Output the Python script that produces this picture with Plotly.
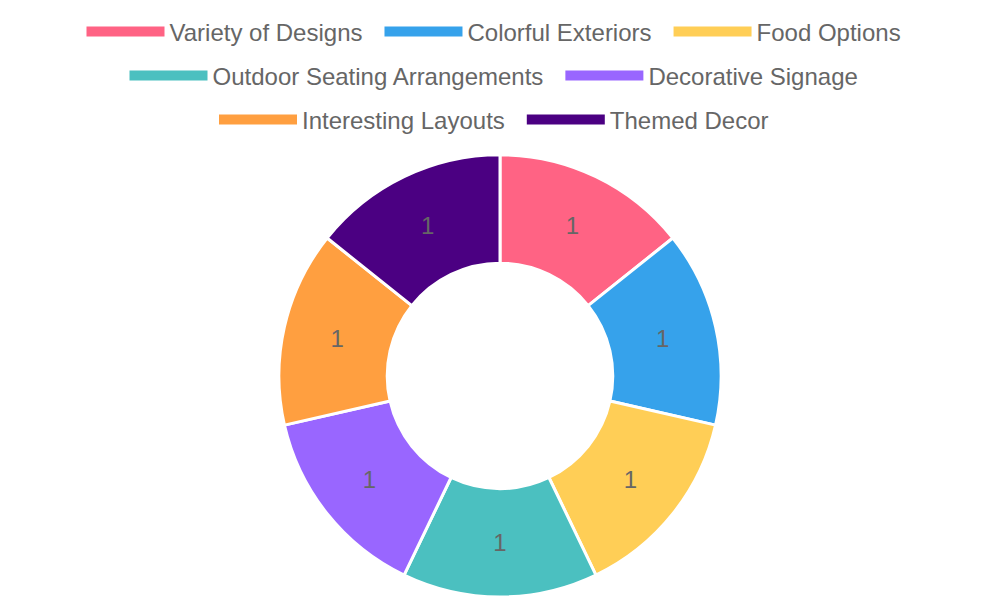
import plotly.graph_objects as go

labels = ['Variety of Designs', 'Colorful Exteriors', 'Food Options',
          'Outdoor Seating Arrangements', 'Decorative Signage',
          'Interesting Layouts', 'Themed Decor']
values = [1, 1, 1, 1, 1, 1, 1]
colors = ['#FF6384', '#36A2EB', '#FFCE56', '#4BC0C0', '#9966FF', '#FF9F40', '#4B0082']
# which legend row each label sits on (legend wraps like chart.js: 3 / 2 / 2)
legend_rows = ['legend', 'legend', 'legend', 'legend2', 'legend2', 'legend3', 'legend3']

fig = go.Figure()

fig.add_trace(go.Pie(
    labels=labels,
    values=values,
    hole=0.51,
    sort=False,
    direction='clockwise',
    marker=dict(colors=colors, line=dict(color='white', width=3)),
    text=[str(v) for v in values],
    textinfo='text',
    textposition='inside',
    insidetextorientation='horizontal',
    textfont=dict(color='#666666', size=24),
    domain=dict(x=[0, 1], y=[0.005, 0.742]),
    showlegend=False,
    hoverinfo='label+value',
))

# legend entries as dummy traces so rows can be centred like the original
for name, col, lg in zip(labels, colors, legend_rows):
    fig.add_trace(go.Scatter(
        x=[None], y=[None], mode='lines', name=name + '\u2002',
        line=dict(color=col, width=20), legend=lg, hoverinfo='skip',
    ))

leg = dict(orientation='h', xanchor='center', x=0.5, yanchor='middle',
           itemwidth=78, font=dict(size=24, color='#666666'),
           bgcolor='rgba(0,0,0,0)')

fig.update_layout(
    width=1000, height=600,
    margin=dict(l=0, r=0, t=0, b=0, autoexpand=False),
    paper_bgcolor='white',
    plot_bgcolor='white',
    font=dict(family='Liberation Sans, Arial, sans-serif', color='#666666'),
    xaxis=dict(visible=False),
    yaxis=dict(visible=False),
    legend=dict(leg, y=1 - 32 / 600),
    legend2=dict(leg, y=1 - 76 / 600),
    legend3=dict(leg, y=1 - 120 / 600),
)

fig.write_html('out.html', config={'displayModeBar': False},
               post_script="document.body.style.margin='0';")
